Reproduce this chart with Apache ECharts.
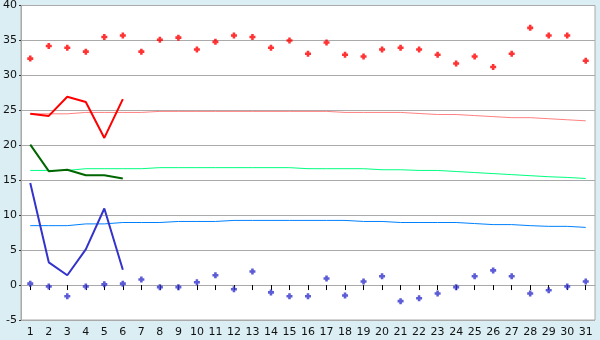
<!DOCTYPE html>
<html>
<head>
<meta charset="utf-8">
<style>
html,body{margin:0;padding:0;background:#daeef4;}
#chart{width:600px;height:340px;}
</style>
<script src="https://cdn.jsdelivr.net/npm/echarts@6/dist/echarts.min.js"></script>
</head>
<body>
<div id="chart"></div>
<script>
var days = ['1','2','3','4','5','6','7','8','9','10','11','12','13','14','15','16','17','18','19','20','21','22','23','24','25','26','27','28','29','30','31'];
var yTicks = [-5, 0, 5, 10, 15, 20, 25, 30, 35, 40];

var maxRecord = [32.4,34.2,33.95,33.4,35.5,35.7,33.4,35.1,35.4,33.7,34.8,35.7,35.5,33.95,35.0,33.1,34.7,32.95,32.7,33.7,33.95,33.7,32.95,31.7,32.7,31.2,33.1,36.8,35.7,35.7,32.1];
var minRecord = [0.2,-0.2,-1.6,-0.2,0.1,0.2,0.8,-0.3,-0.3,0.4,1.4,-0.6,1.95,-1.05,-1.6,-1.6,0.95,-1.5,0.5,1.25,-2.3,-1.9,-1.2,-0.3,1.25,2.1,1.25,-1.2,-0.75,-0.2,0.5];

var maxNormal = [24.5,24.5,24.5,24.7,24.7,24.7,24.7,24.85,24.85,24.85,24.85,24.85,24.85,24.85,24.85,24.85,24.85,24.7,24.7,24.7,24.7,24.55,24.4,24.4,24.25,24.1,23.95,23.95,23.8,23.65,23.5];
var meanNormal = [16.4,16.4,16.4,16.65,16.65,16.65,16.65,16.8,16.8,16.8,16.8,16.8,16.8,16.8,16.8,16.65,16.65,16.65,16.65,16.5,16.5,16.4,16.4,16.25,16.1,15.95,15.8,15.65,15.5,15.4,15.25];
var minNormal = [8.5,8.5,8.5,8.75,8.75,8.95,8.95,8.95,9.1,9.1,9.1,9.25,9.25,9.25,9.25,9.25,9.25,9.25,9.1,9.1,8.95,8.95,8.95,8.95,8.8,8.65,8.65,8.5,8.4,8.4,8.25];

var maxActual = [24.5,24.2,26.95,26.2,21.05,26.6];
var meanActual = [20.1,16.3,16.5,15.7,15.7,15.25];
var minActual = [14.6,3.25,1.4,5.1,10.95,2.2];

var plus = 'path://M2,0H5V2H7V5H5V7H2V5H0V2H2Z';

var chart = echarts.init(document.getElementById('chart'), null, {renderer:'canvas'});
chart.setOption({
  animation: false,
  backgroundColor: '#daeef4',
  grid: {left:20, right:5, top:5, bottom:20, show:true, backgroundColor:'#ffffff', borderColor:'#aaaaaa', borderWidth:1},
  xAxis: {
    type:'category', data: days, boundaryGap:true,
    axisLine:{show:true, lineStyle:{color:'#aaaaaa', width:1}},
    axisTick:{show:true, alignWithLabel:true, length:5, lineStyle:{color:'#000000'}},
    axisLabel:{color:'#111111', fontFamily:'DejaVu Sans', fontSize:11, margin:7, interval:0},
    splitLine:{show:false}
  },
  yAxis: {
    type:'value', min: yTicks[0], max: yTicks[yTicks.length-1], interval: 5,
    axisLine:{show:true, lineStyle:{color:'#aaaaaa'}},
    axisTick:{show:true, length:2, lineStyle:{color:'#333333'}},
    axisLabel:{color:'#111111', fontFamily:'DejaVu Sans', fontSize:11, margin:4},
    splitLine:{show:true, lineStyle:{color:'#aaaaaa', width:1}}
  },
  series: [
    {type:'line', data:maxNormal, showSymbol:false, lineStyle:{color:'#ff8080', width:1}, itemStyle:{color:'#ff8080'}},
    {type:'line', data:meanNormal, showSymbol:false, lineStyle:{color:'#00ff80', width:1}, itemStyle:{color:'#00ff80'}},
    {type:'line', data:minNormal, showSymbol:false, lineStyle:{color:'#0080ff', width:1}, itemStyle:{color:'#0080ff'}},
    {type:'line', data:maxActual, showSymbol:false, lineStyle:{color:'#ff0000', width:2}, itemStyle:{color:'#ff0000'}},
    {type:'line', data:meanActual, showSymbol:false, lineStyle:{color:'#006600', width:2}, itemStyle:{color:'#006600'}},
    {type:'line', data:minActual, showSymbol:false, lineStyle:{color:'#3333cc', width:2}, itemStyle:{color:'#3333cc'}},
    {type:'scatter', data:maxRecord, symbol:plus, symbolSize:6, itemStyle:{color:'#ff0000'}},
    {type:'scatter', data:minRecord, symbol:plus, symbolSize:6, itemStyle:{color:'#3333cc'}}
  ]
});
</script>
</body>
</html>
